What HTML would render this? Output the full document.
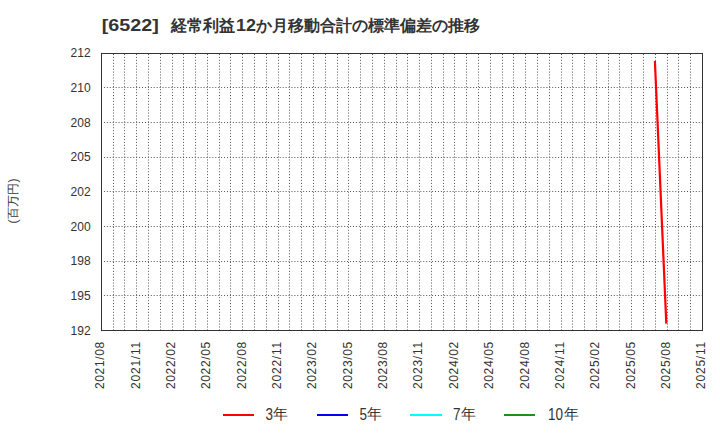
<!DOCTYPE html>
<html><head><meta charset="utf-8">
<style>
html,body{margin:0;padding:0;background:#fff;width:720px;height:440px;overflow:hidden}
svg{display:block;font-family:"Liberation Sans",sans-serif}
</style></head><body>
<svg width="720" height="440" viewBox="0 0 720 440">
<rect width="720" height="440" fill="#fff"/>
<g font-weight="bold" fill="#333" font-size="16">
<text x="101.8" y="30.8" font-size="15.8" textLength="57" lengthAdjust="spacingAndGlyphs">[6522]</text>
<text x="170.7" y="30.5" font-size="16" textLength="64" lengthAdjust="spacing">経常利益</text>
<text x="235.9" y="30.8" font-size="15.8" textLength="20" lengthAdjust="spacingAndGlyphs">12</text>
<text x="255.5" y="30.5" font-size="16" textLength="224.5" lengthAdjust="spacing">か月移動合計の標準偏差の推移</text>
</g>
<g stroke="#555" stroke-width="1" stroke-dasharray="1 1.93">
<line x1="113.5" y1="54" x2="113.5" y2="330"/>
<line x1="124.5" y1="54" x2="124.5" y2="330"/>
<line x1="136.5" y1="54" x2="136.5" y2="330"/>
<line x1="148.5" y1="54" x2="148.5" y2="330"/>
<line x1="160.5" y1="54" x2="160.5" y2="330"/>
<line x1="172.5" y1="54" x2="172.5" y2="330"/>
<line x1="183.5" y1="54" x2="183.5" y2="330"/>
<line x1="195.5" y1="54" x2="195.5" y2="330"/>
<line x1="207.5" y1="54" x2="207.5" y2="330"/>
<line x1="219.5" y1="54" x2="219.5" y2="330"/>
<line x1="230.5" y1="54" x2="230.5" y2="330"/>
<line x1="242.5" y1="54" x2="242.5" y2="330"/>
<line x1="254.5" y1="54" x2="254.5" y2="330"/>
<line x1="266.5" y1="54" x2="266.5" y2="330"/>
<line x1="278.5" y1="54" x2="278.5" y2="330"/>
<line x1="289.5" y1="54" x2="289.5" y2="330"/>
<line x1="301.5" y1="54" x2="301.5" y2="330"/>
<line x1="313.5" y1="54" x2="313.5" y2="330"/>
<line x1="325.5" y1="54" x2="325.5" y2="330"/>
<line x1="337.5" y1="54" x2="337.5" y2="330"/>
<line x1="348.5" y1="54" x2="348.5" y2="330"/>
<line x1="360.5" y1="54" x2="360.5" y2="330"/>
<line x1="372.5" y1="54" x2="372.5" y2="330"/>
<line x1="384.5" y1="54" x2="384.5" y2="330"/>
<line x1="396.5" y1="54" x2="396.5" y2="330"/>
<line x1="407.5" y1="54" x2="407.5" y2="330"/>
<line x1="419.5" y1="54" x2="419.5" y2="330"/>
<line x1="431.5" y1="54" x2="431.5" y2="330"/>
<line x1="443.5" y1="54" x2="443.5" y2="330"/>
<line x1="454.5" y1="54" x2="454.5" y2="330"/>
<line x1="466.5" y1="54" x2="466.5" y2="330"/>
<line x1="478.5" y1="54" x2="478.5" y2="330"/>
<line x1="490.5" y1="54" x2="490.5" y2="330"/>
<line x1="502.5" y1="54" x2="502.5" y2="330"/>
<line x1="513.5" y1="54" x2="513.5" y2="330"/>
<line x1="525.5" y1="54" x2="525.5" y2="330"/>
<line x1="537.5" y1="54" x2="537.5" y2="330"/>
<line x1="549.5" y1="54" x2="549.5" y2="330"/>
<line x1="561.5" y1="54" x2="561.5" y2="330"/>
<line x1="572.5" y1="54" x2="572.5" y2="330"/>
<line x1="584.5" y1="54" x2="584.5" y2="330"/>
<line x1="596.5" y1="54" x2="596.5" y2="330"/>
<line x1="608.5" y1="54" x2="608.5" y2="330"/>
<line x1="619.5" y1="54" x2="619.5" y2="330"/>
<line x1="631.5" y1="54" x2="631.5" y2="330"/>
<line x1="643.5" y1="54" x2="643.5" y2="330"/>
<line x1="655.5" y1="54" x2="655.5" y2="330"/>
<line x1="667.5" y1="54" x2="667.5" y2="330"/>
<line x1="678.5" y1="54" x2="678.5" y2="330"/>
<line x1="690.5" y1="54" x2="690.5" y2="330"/>
</g>
<g stroke="#555" stroke-width="1" stroke-dasharray="1 1.93">
<line x1="101" y1="87.5" x2="702" y2="87.5"/>
<line x1="101" y1="122.5" x2="702" y2="122.5"/>
<line x1="101" y1="157.5" x2="702" y2="157.5"/>
<line x1="101" y1="191.5" x2="702" y2="191.5"/>
<line x1="101" y1="226.5" x2="702" y2="226.5"/>
<line x1="101" y1="261.5" x2="702" y2="261.5"/>
<line x1="101" y1="295.5" x2="702" y2="295.5"/>
</g>
<rect x="101.5" y="53.5" width="601" height="277" fill="none" stroke="#333" stroke-width="1" shape-rendering="crispEdges"/>
<line x1="654.9" y1="61" x2="666.3" y2="323.6" stroke="#ff0000" stroke-width="2.2"/>
<g font-size="12" fill="#333" text-anchor="end">
<text x="90.6" y="57.40">212</text>
<text x="90.6" y="92.22">210</text>
<text x="90.6" y="126.85">208</text>
<text x="90.6" y="161.47">205</text>
<text x="90.6" y="196.10">202</text>
<text x="90.6" y="230.72">200</text>
<text x="90.6" y="265.35">198</text>
<text x="90.6" y="299.98">195</text>
<text x="90.6" y="334.60">192</text>
</g>
<g font-size="12" fill="#333" text-anchor="end">
<text transform="translate(104.1,341.8) rotate(-90)" textLength="47.2" lengthAdjust="spacing">2021/08</text>
<text transform="translate(139.5,341.8) rotate(-90)" textLength="47.2" lengthAdjust="spacing">2021/11</text>
<text transform="translate(174.8,341.8) rotate(-90)" textLength="47.2" lengthAdjust="spacing">2022/02</text>
<text transform="translate(210.2,341.8) rotate(-90)" textLength="47.2" lengthAdjust="spacing">2022/05</text>
<text transform="translate(245.6,341.8) rotate(-90)" textLength="47.2" lengthAdjust="spacing">2022/08</text>
<text transform="translate(280.9,341.8) rotate(-90)" textLength="47.2" lengthAdjust="spacing">2022/11</text>
<text transform="translate(316.3,341.8) rotate(-90)" textLength="47.2" lengthAdjust="spacing">2023/02</text>
<text transform="translate(351.6,341.8) rotate(-90)" textLength="47.2" lengthAdjust="spacing">2023/05</text>
<text transform="translate(387.0,341.8) rotate(-90)" textLength="47.2" lengthAdjust="spacing">2023/08</text>
<text transform="translate(422.4,341.8) rotate(-90)" textLength="47.2" lengthAdjust="spacing">2023/11</text>
<text transform="translate(457.7,341.8) rotate(-90)" textLength="47.2" lengthAdjust="spacing">2024/02</text>
<text transform="translate(493.1,341.8) rotate(-90)" textLength="47.2" lengthAdjust="spacing">2024/05</text>
<text transform="translate(528.5,341.8) rotate(-90)" textLength="47.2" lengthAdjust="spacing">2024/08</text>
<text transform="translate(563.8,341.8) rotate(-90)" textLength="47.2" lengthAdjust="spacing">2024/11</text>
<text transform="translate(599.2,341.8) rotate(-90)" textLength="47.2" lengthAdjust="spacing">2025/02</text>
<text transform="translate(634.6,341.8) rotate(-90)" textLength="47.2" lengthAdjust="spacing">2025/05</text>
<text transform="translate(669.9,341.8) rotate(-90)" textLength="47.2" lengthAdjust="spacing">2025/08</text>
<text transform="translate(705.3,341.8) rotate(-90)" textLength="47.2" lengthAdjust="spacing">2025/11</text>
</g>
<text transform="translate(17,201) rotate(-90)" font-size="12.2" fill="#333" text-anchor="middle" textLength="45" lengthAdjust="spacing">(百万円)</text>
<g stroke-width="2" shape-rendering="crispEdges">
<line x1="223" y1="415" x2="254" y2="415" stroke="#ff0000"/>
<line x1="317" y1="415" x2="348" y2="415" stroke="#0000f0"/>
<line x1="410" y1="415" x2="442" y2="415" stroke="#00ffff"/>
<line x1="504" y1="415" x2="535" y2="415" stroke="#228b22"/>
</g>
<g font-size="16" fill="#333">
<text x="265.6" y="420" textLength="7.5" lengthAdjust="spacingAndGlyphs">3</text>
<text x="359.6" y="420" textLength="7.5" lengthAdjust="spacingAndGlyphs">5</text>
<text x="452.9" y="420" textLength="7.5" lengthAdjust="spacingAndGlyphs">7</text>
<text x="548" y="420" textLength="15" lengthAdjust="spacingAndGlyphs">10</text>
</g>
<g font-size="15" fill="#333">
<text x="273.1" y="418.7">年</text>
<text x="367.1" y="418.7">年</text>
<text x="460.9" y="418.7">年</text>
<text x="563.6" y="418.7">年</text>
</g>
</svg>
</body></html>
